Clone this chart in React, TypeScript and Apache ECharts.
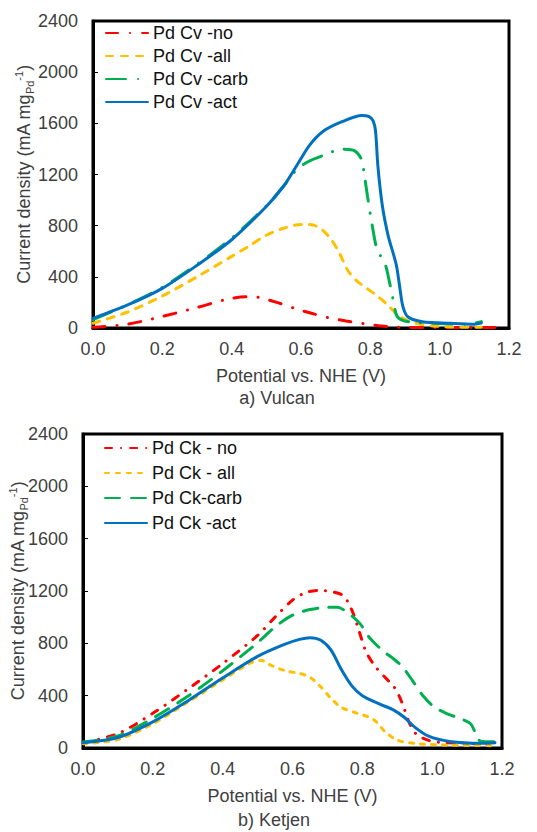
import React, { useEffect, useRef } from 'react';
import * as echarts from 'echarts';

// ---------- Data ----------
const vulcanNames = ['Pd Cv -no', 'Pd Cv -all', 'Pd Cv -carb', 'Pd Cv -act'];
const ketjenNames = ['Pd Ck - no', 'Pd Ck - all', 'Pd Ck-carb', 'Pd Ck -act'];

const xTickMin = 0;
const xTickMax = 1.2;
const xTickStep = 0.2;
const yTickMin = 0;
const yTickMax = 2400;
const yTickStep = 400;

// a) Vulcan
const vulcanNo: number[][] = [
  [0, 5], [0.1, 30], [0.2, 90], [0.3, 160], [0.38, 220], [0.44, 245], [0.48, 238],
  [0.53, 200], [0.58, 155], [0.63, 115], [0.68, 80], [0.73, 55], [0.78, 35], [0.83, 16],
  [0.88, 6], [1.0, 3], [1.18, 5],
];
const vulcanAll: number[][] = [
  [0, 37], [0.1, 125], [0.2, 250], [0.3, 400], [0.4, 560], [0.45, 640], [0.5, 725],
  [0.55, 780], [0.6, 810], [0.635, 805], [0.66, 770], [0.685, 700], [0.71, 590],
  [0.735, 450], [0.76, 370], [0.79, 310], [0.82, 250], [0.85, 180], [0.88, 100],
  [0.92, 45], [1.0, 12], [1.12, 5],
];
const vulcanCarb: number[][] = [
  [0, 65], [0.1, 182], [0.2, 318], [0.3, 498], [0.4, 702], [0.5, 955], [0.55, 1110],
  [0.585, 1230], [0.62, 1300], [0.665, 1350], [0.72, 1398], [0.755, 1385], [0.775, 1315],
  [0.782, 1210], [0.792, 1027], [0.806, 792], [0.82, 610], [0.842, 506], [0.856, 349],
  [0.868, 193], [0.878, 88], [0.91, 49], [1.0, 35], [1.08, 30], [1.12, 50],
];
const vulcanAct: number[][] = [
  [0, 75], [0.1, 180], [0.2, 310], [0.3, 490], [0.4, 690], [0.5, 950], [0.55, 1110],
  [0.59, 1280], [0.625, 1430], [0.665, 1540], [0.72, 1615], [0.775, 1662], [0.795, 1655],
  [0.808, 1620], [0.815, 1540], [0.822, 1260], [0.835, 950], [0.852, 714], [0.866, 584],
  [0.876, 479], [0.886, 297], [0.894, 167], [0.908, 88], [0.95, 49], [1.03, 37],
  [1.1, 30], [1.12, 38],
];

// b) Ketjen
const ketjenNo: number[][] = [
  [0, 40], [0.1, 110], [0.2, 265], [0.3, 450], [0.4, 645], [0.5, 860], [0.55, 1000],
  [0.6, 1130], [0.64, 1190], [0.68, 1205], [0.72, 1190], [0.745, 1165], [0.76, 1110],
  [0.775, 1020], [0.79, 900], [0.81, 740], [0.835, 630], [0.865, 540], [0.89, 470],
  [0.905, 400], [0.92, 300], [0.935, 190], [0.955, 105], [0.99, 58], [1.03, 42], [1.18, 30],
];
const ketjenAll: number[][] = [
  [0, 33], [0.1, 65], [0.2, 185], [0.3, 350], [0.4, 520], [0.48, 650], [0.51, 670],
  [0.54, 630], [0.58, 590], [0.62, 570], [0.65, 540], [0.68, 470], [0.71, 380], [0.74, 310],
  [0.78, 270], [0.82, 235], [0.84, 200], [0.865, 125], [0.9, 60], [0.95, 35], [1.04, 22],
  [1.18, 18],
];
const ketjenCarb: number[][] = [
  [0, 45], [0.1, 92], [0.2, 228], [0.3, 395], [0.4, 590], [0.5, 805], [0.55, 925],
  [0.6, 1015], [0.65, 1058], [0.7, 1075], [0.73, 1075], [0.75, 1050], [0.77, 1010],
  [0.795, 945], [0.82, 845], [0.86, 740], [0.89, 680], [0.915, 620], [0.945, 510],
  [0.975, 395], [1.005, 315], [1.04, 265], [1.085, 220], [1.11, 185], [1.125, 110],
  [1.14, 50], [1.18, 48],
];
const ketjenAct: number[][] = [
  [0, 40], [0.1, 80], [0.2, 200], [0.3, 360], [0.4, 535], [0.5, 700], [0.575, 790],
  [0.62, 830], [0.65, 843], [0.68, 825], [0.71, 750], [0.74, 600], [0.77, 475], [0.8, 400],
  [0.85, 335], [0.89, 290], [0.92, 235], [0.95, 160], [0.99, 90], [1.05, 50], [1.14, 36],
  [1.18, 40],
];

// ---------- Styles ----------
const FONT = '"Liberation Sans", Arial, Helvetica, sans-serif';
const TXT = '#404040';
const RED = '#FF0000';
const YEL = '#FFC000';
const GRN = '#00B050';
const BLU = '#0070C0';

function mkSeries(name: string, data: number[][], color: string, dash: any, idx: number) {
  return {
    name,
    type: 'line',
    xAxisIndex: idx,
    yAxisIndex: idx,
    data,
    smooth: 0.3,
    symbol: 'none',
    showSymbol: false,
    lineStyle: { color, width: 3, type: dash, cap: 'round' },
    itemStyle: { color },
    emphasis: { disabled: true },
  };
}

function yTitle(x: number, y: number) {
  return {
    type: 'text',
    x,
    y,
    rotation: Math.PI / 2,
    style: {
      text: '{a|Current density (mA mg}{sub|Pd}{sup|-1}{a|)}',
      fill: TXT,
      fontFamily: FONT,
      fontSize: 18,
      align: 'center',
      verticalAlign: 'middle',
      textAlign: 'center',
      textVerticalAlign: 'middle',
      rich: {
        a: { fontSize: 18, fontFamily: FONT, fill: TXT, color: TXT, lineHeight: 22 },
        sub: { fontSize: 11, fontFamily: FONT, fill: TXT, color: TXT, lineHeight: 12, verticalAlign: 'bottom' },
        sup: { fontSize: 11, fontFamily: FONT, fill: TXT, color: TXT, lineHeight: 12, verticalAlign: 'top' },
      },
    },
  };
}

function plainText(x: number, y: number, text: string) {
  return {
    type: 'text',
    x,
    y,
    style: {
      text,
      fill: TXT,
      fontFamily: FONT,
      fontSize: 18,
      align: 'center',
      verticalAlign: 'middle',
      textAlign: 'center',
      textVerticalAlign: 'middle',
    },
  };
}

const legendBase = {
  orient: 'vertical',
  padding: 0,
  itemWidth: 42,
  itemHeight: 14,
  selectedMode: false,
  itemStyle: { color: 'transparent', borderColor: 'transparent', borderWidth: 0, opacity: 0 },
  textStyle: { color: '#111', fontSize: 18, fontFamily: FONT, lineHeight: 18 },
};

export default function App() {
  const ref = useRef<HTMLDivElement>(null);
  useEffect(() => {
    if (!ref.current) return;
    const chart = echarts.init(ref.current, null, { renderer: 'svg' });
    const grids = [
      { left: 93, top: 21, width: 416, height: 307 },
      { left: 83, top: 434, width: 419, height: 314 },
    ];
    const option: any = {
      animation: false,
      backgroundColor: '#fff',
      textStyle: { fontFamily: FONT },
      grid: grids.map((g) => ({ ...g, show: true, borderColor: '#000', borderWidth: 3, backgroundColor: 'transparent' })),
      xAxis: [0, 1].map((i) => ({
        type: 'value',
        gridIndex: i,
        min: xTickMin,
        max: xTickMax,
        interval: xTickStep,
        axisLine: { show: true, onZero: false, lineStyle: { color: '#000', width: 3 } },
        axisTick: { show: false },
        splitLine: { show: false },
        axisLabel: {
          color: TXT,
          fontSize: 18,
          fontFamily: FONT,
          margin: 12,
          formatter: (v: number) => v.toFixed(1),
        },
        name: 'Potential vs. NHE (V)',
        nameLocation: 'middle',
        nameGap: 39,
        nameTextStyle: { color: TXT, fontSize: 18, fontFamily: FONT },
      })),
      yAxis: [0, 1].map((i) => ({
        type: 'value',
        gridIndex: i,
        min: yTickMin,
        max: yTickMax,
        interval: yTickStep,
        axisLine: { show: true, lineStyle: { color: '#000', width: 3 } },
        axisTick: { show: true, inside: true, length: 5, lineStyle: { color: '#000', width: 1 } },
        splitLine: { show: false },
        axisLabel: {
          color: TXT,
          fontSize: 18,
          fontFamily: FONT,
          margin: 15,
          formatter: (v: number) => String(Math.round(v)),
        },
      })),
      legend: [
        { ...legendBase, data: vulcanNames, left: 105, top: 24, itemGap: 5 },
        { ...legendBase, data: ketjenNames, left: 104, top: 439, itemGap: 7 },
      ],
      series: [
        mkSeries(vulcanNames[0], vulcanNo, RED, [12, 12, 0.1, 12], 0),
        mkSeries(vulcanNames[1], vulcanAll, YEL, [7, 8], 0),
        mkSeries(vulcanNames[2], vulcanCarb, GRN, [20, 12, 0.1, 12], 0),
        mkSeries(vulcanNames[3], vulcanAct, BLU, 'solid', 0),
        mkSeries(ketjenNames[0], ketjenNo, RED, [7, 9, 0.1, 9], 1),
        mkSeries(ketjenNames[1], ketjenAll, YEL, [4, 7], 1),
        mkSeries(ketjenNames[2], ketjenCarb, GRN, [15, 11], 1),
        mkSeries(ketjenNames[3], ketjenAct, BLU, 'solid', 1),
      ],
      graphic: [
        yTitle(24, 174.5),
        yTitle(18, 591),
        plainText(277, 398, 'a) Vulcan'),
        plainText(274, 820, 'b) Ketjen'),
      ],
    };
    chart.setOption(option);
    return () => chart.dispose();
  }, []);
  return (
    <div
      ref={ref}
      style={{ position: 'absolute', left: 0, top: 0, width: 537, height: 832, background: '#fff' }}
    />
  );
}
